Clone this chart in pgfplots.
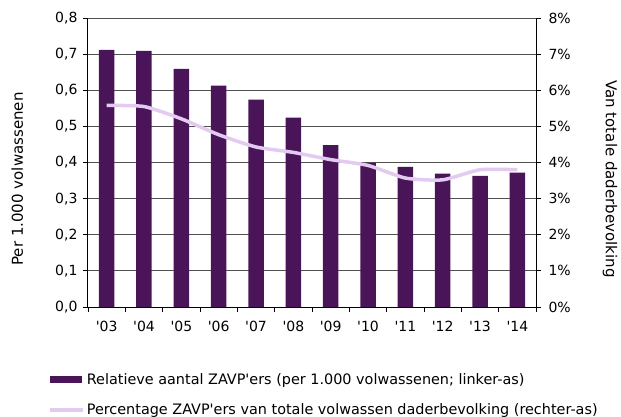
\documentclass[border=0pt]{standalone}
\usepackage{fontspec}
\setmainfont{DejaVu Sans}
\usepackage{pgfplots}
\pgfplotsset{compat=1.18}
\definecolor{barcol}{RGB}{74,21,88}
\definecolor{linecol}{RGB}{226,202,240}
\definecolor{gridcol}{RGB}{80,80,80}
\newcommand{\q}{\textquotesingle}
\begin{document}
\begin{tikzpicture}[font=\fontsize{14}{16}\selectfont]
\useasboundingbox (-88pt,-109pt) rectangle (533pt,307pt);
\begin{axis}[
  at={(0pt,0pt)}, anchor=south west,
  scale only axis, width=448pt, height=289pt,
  xmin=-0.5, xmax=11.5, ymin=0, ymax=0.8,
  axis x line*=bottom, axis y line*=left,
  axis line style={black, line width=1pt},
  tick align=outside,
  xtick={-0.5,0.5,...,11.5}, xticklabels={},
  extra x ticks={0,1,...,11},
  extra x tick labels={\q03,\q04,\q05,\q06,\q07,\q08,\q09,\q10,\q11,\q12,\q13,\q14},
  extra x tick style={major tick length=0pt, grid=none, xticklabel style={yshift=-11pt}},
  major tick length=5pt,
  tick style={black, line width=0.8pt},
  ytick={0,0.1,...,0.8},
  yticklabel style={xshift=-2pt, /pgf/number format/.cd, fixed, fixed zerofill, precision=1, use comma, assume math mode=true},
  ymajorgrids, grid style={gridcol, line width=0.9pt},
  ylabel={Per 1.000 volwassenen},
  ylabel style={at={(axis description cs:-0.158,0.443)}, anchor=center, font=\fontsize{15}{17}\selectfont},
  ybar, bar width=15.5pt,
]
\addplot[fill=barcol, draw=none] coordinates {
(0,0.712) (1,0.709) (2,0.659) (3,0.613) (4,0.574) (5,0.524)
(6,0.448) (7,0.399) (8,0.388) (9,0.369) (10,0.363) (11,0.372)};
\end{axis}
\begin{axis}[
  at={(0pt,0pt)}, anchor=south west,
  scale only axis, width=448pt, height=289pt,
  xmin=-0.5, xmax=11.5, ymin=0, ymax=8,
  axis x line=none, axis y line*=right,
  axis line style={black, line width=1pt},
  tick align=outside, major tick length=5pt,
  tick style={black, line width=0.8pt},
  ytick={0,1,...,8},
  yticklabel={\pgfmathparse{int(round(\tick))}\pgfmathresult\%},
  yticklabel style={xshift=4pt},
  ylabel={Van totale daderbevolking},
  ylabel style={at={(axis description cs:1.165,0.443)}, anchor=center, rotate=180, font=\fontsize{15}{17}\selectfont},
  legend style={at={(axis description cs:-0.089,-0.222)}, anchor=north west,
    draw=none, fill=none, inner sep=0pt, row sep=14pt,
    font=\fontsize{14.4}{16}\selectfont,
    /tikz/every even column/.append style={column sep=0pt}},
  legend cell align=left,
]
\addlegendimage{legend image code/.code={\fill[barcol] (0pt,-3pt) rectangle (31pt,3pt);}}
\addlegendentry{Relatieve aantal ZAVP\q ers (per 1.000 volwassenen; linker-as)}
\addplot[linecol, line width=3.5pt, smooth, tension=0.35,
  legend image code/.code={\draw[linecol, line width=3.5pt] (0pt,0pt) -- (33pt,0pt);}] coordinates {
(0,5.58) (1,5.55) (2,5.21) (3,4.77) (4,4.43) (5,4.28)
(6,4.08) (7,3.92) (8,3.57) (9,3.52) (10,3.80) (11,3.80)};
\addlegendentry{Percentage ZAVP\q ers van totale volwassen daderbevolking (rechter-as)}
\end{axis}
\end{tikzpicture}
\end{document}
